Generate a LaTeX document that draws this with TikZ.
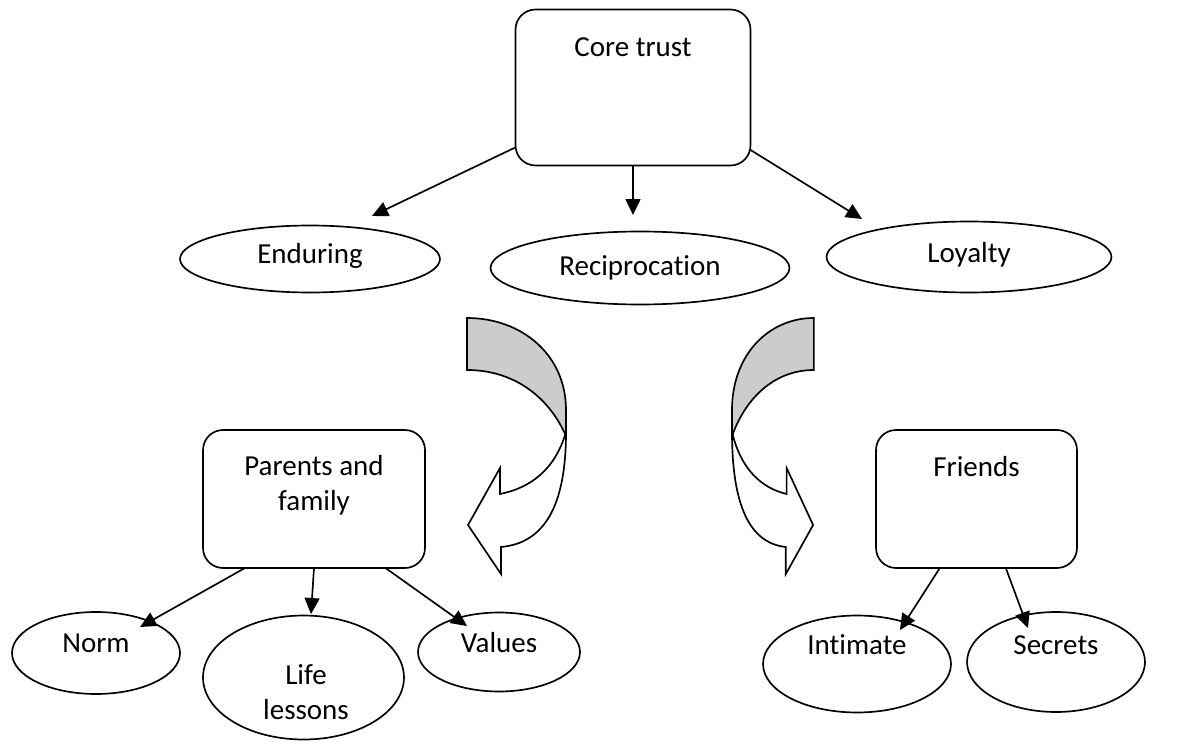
\documentclass[tikz,border=0pt]{standalone}
\usepackage{fontspec}
\setmainfont{Carlito}[Ligatures={NoCommon,NoContextual}]
\usetikzlibrary{shapes.geometric,arrows.meta}
\begin{document}
\begin{tikzpicture}[x=0.02cm,y=-0.02cm,
  box/.style={draw, rounded corners=0.4cm, line width=0.95pt, inner sep=0pt, outer sep=0pt},
  oval/.style={draw, ellipse, line width=0.95pt, inner sep=0pt, outer sep=0pt},
  lbl/.style={font=\fontsize{16.5}{19.9}\selectfont, align=center, inner sep=0pt},
  arr/.style={line width=0.95pt, -{Triangle[length=0.32cm,width=0.3cm]}},
  band/.style={draw, line width=0.95pt, line join=miter}]
\useasboundingbox (0,0) rectangle (1186,753);

% boxes
\node[box, minimum width=4.7cm, minimum height=3.12cm] (core) at (633,87.5) {};
\node[lbl] (coret) at (633,47) {Core trust};
\node[box, minimum width=4.44cm, minimum height=2.76cm] (par) at (314,499) {};
\node[lbl] (part) at (314,485) {Parents and\\family};
\node[box, minimum width=4.02cm, minimum height=2.76cm] (fri) at (976.5,499) {};
\node[lbl] (frit) at (976.5,467) {Friends};

% ellipses
\node[oval, minimum width=5.2cm, minimum height=1.34cm] (endu) at (310,259) {};
\node[lbl] (endut) at (310,256) {Enduring};
\node[oval, minimum width=5.98cm, minimum height=1.46cm] (rec) at (640,268) {};
\node[lbl] (rect) at (640,268) {Reciprocation};
\node[oval, minimum width=5.7cm, minimum height=1.42cm] (loy) at (969,257) {};
\node[lbl] (loyt) at (969,255) {Loyalty};
\node[oval, minimum width=3.36cm, minimum height=1.64cm] (norm) at (96,653) {};
\node[lbl] (normt) at (96,643) {Norm};
\node[oval, minimum width=4.02cm, minimum height=2.48cm] (life) at (303.5,677.5) {};
\node[lbl] (lifet) at (306,692) {Life\\lessons};
\node[oval, minimum width=3.24cm, minimum height=1.58cm] (val) at (499,652) {};
\node[lbl] (valt) at (499,643) {Values};
\node[oval, minimum width=3.76cm, minimum height=1.94cm] (inti) at (857,664) {};
\node[lbl] (intit) at (857,645) {Intimate};
\node[oval, minimum width=3.56cm, minimum height=2.0cm] (sec) at (1056,662) {};
\node[lbl] (sect) at (1056,645) {Secrets};

% arrow tips
\coordinate (t1) at (372,216);
\coordinate (t2) at (633,215);
\coordinate (t3) at (862,219);
\coordinate (t4) at (140,627);
\coordinate (t5) at (311,614);
\coordinate (t6) at (467,626);
\coordinate (t7) at (900,630);
\coordinate (t8) at (1028,628);

\draw[arr] (core.207) -- (t1);
\draw[arr] (core.south) -- (t2);
\draw[arr] (core.-28) -- (t3);
\draw[arr] (par.225) -- (t4);
\draw[arr] (par.south) -- (t5);
\draw[arr] (par.-44) -- (t6);
\draw[arr] (fri.242) -- (t7);
\draw[arr] (fri.-67) -- (t8);

% left curved arrow
\draw[band, fill=gray!40] (467,318) .. controls (522,318) and (566,355) .. (566,410)
  -- (566,436) .. controls (548,395) and (512,370) .. (467,370) -- cycle;
\draw[band, fill=white] (566,432) .. controls (566,505) and (545,543) .. (501,547)
  -- (501,574) -- (468,525) -- (500,468) -- (500,494)
  .. controls (530,488) and (555,470) .. (566,432) -- cycle;

% right curved arrow
\draw[band, fill=gray!40] (813.9,318) .. controls (768.4,318) and (732,355) .. (732,410)
  -- (732,436) .. controls (746.9,395) and (776.7,370) .. (813.9,370) -- cycle;
\draw[band, fill=white] (732,432) .. controls (732,505) and (749.3,543) .. (785.8,547)
  -- (785.8,574) -- (813.1,525) -- (786.6,468) -- (786.6,494)
  .. controls (761.8,488) and (741.1,470) .. (732,432) -- cycle;
\end{tikzpicture}
\end{document}
